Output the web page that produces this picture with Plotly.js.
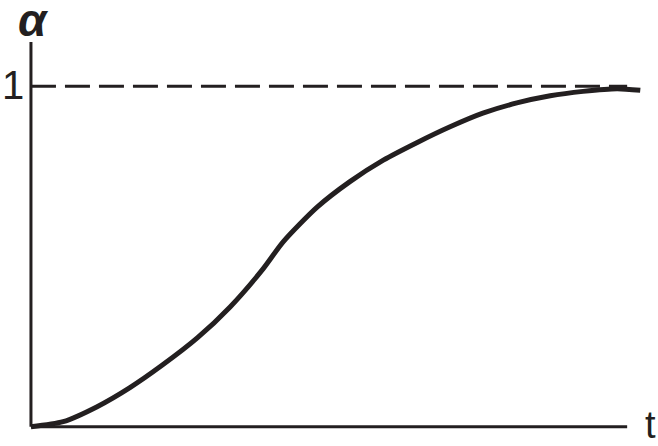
<!DOCTYPE html>
<html>
<head>
<meta charset="utf-8">
<script src="https://cdn.plot.ly/plotly-3.0.1.min.js"></script>
<style>
html,body{margin:0;padding:0;background:#fff;}
#chart{width:658px;height:446px;}
</style>
</head>
<body>
<div id="chart"></div>
<script>
// Curve: conversion degree alpha vs time t (arbitrary units)
const tValues = [0, 0.54, 1.11, 1.66, 2.21, 2.79, 3.34, 3.89, 4.23, 4.80, 5.35, 5.91, 6.48, 7.03, 7.58, 8.15, 8.71, 9.26, 9.83, 10.22];
const alphaValues = [0, 0.015, 0.059, 0.115, 0.182, 0.261, 0.352, 0.463, 0.543, 0.645, 0.720, 0.783, 0.835, 0.881, 0.921, 0.951, 0.972, 0.985, 0.993, 0.988];
const asymptote = 1;
const tAxisEnd = 10;
const alphaAxisTop = 1.13;
const yLabel = 'α';
const xLabel = 't';
const asymptoteLabel = '1';

const ink = '#231f20';
const font = 'Liberation Sans, Arial, sans-serif';

const data = [{
  x: tValues,
  y: alphaValues,
  mode: 'lines',
  line: {color: ink, width: 5, shape: 'spline', smoothing: 0.7},
  hoverinfo: 'skip'
}];

const layout = {
  width: 658, height: 446,
  margin: {l: 25, r: 7, t: 42, b: 9, pad: 0},
  paper_bgcolor: '#ffffff',
  plot_bgcolor: '#ffffff',
  showlegend: false,
  xaxis: {range: [-0.1, 10.4], showgrid: false, zeroline: false, showline: false, showticklabels: false, ticks: ''},
  yaxis: {range: [-0.03, alphaAxisTop], showgrid: false, zeroline: false, showline: false, showticklabels: false, ticks: ''},
  shapes: [
    {type: 'line', xref: 'x', yref: 'y', x0: 0, x1: 0, y0: 0, y1: alphaAxisTop, line: {color: ink, width: 3}},
    {type: 'line', xref: 'x', yref: 'y', x0: 0, x1: tAxisEnd, y0: 0, y1: 0, line: {color: ink, width: 3}},
    {type: 'line', xref: 'x', yref: 'y', x0: 0, x1: tAxisEnd, y0: asymptote, y1: asymptote, line: {color: ink, width: 3, dash: '25px,9px'}}
  ],
  annotations: [
    {text: asymptoteLabel, xref: 'paper', yref: 'y', x: 0, y: asymptote, xanchor: 'right', yanchor: 'middle', xshift: 1, yshift: 1, showarrow: false, font: {family: font, size: 40, color: ink}},
    {text: '<b><i>' + yLabel + '</i></b>', xref: 'paper', yref: 'paper', x: 0, y: 1, xanchor: 'center', yanchor: 'bottom', xshift: 8, yshift: -6, showarrow: false, font: {family: font, size: 46, color: ink}},
    {text: xLabel, xref: 'paper', yref: 'y', x: 1, y: 0, xanchor: 'right', yanchor: 'middle', xshift: 7, yshift: 2, showarrow: false, font: {family: font, size: 38, color: ink}}
  ]
};

Plotly.newPlot('chart', data, layout, {displayModeBar: false, staticPlot: true});
</script>
</body>
</html>
